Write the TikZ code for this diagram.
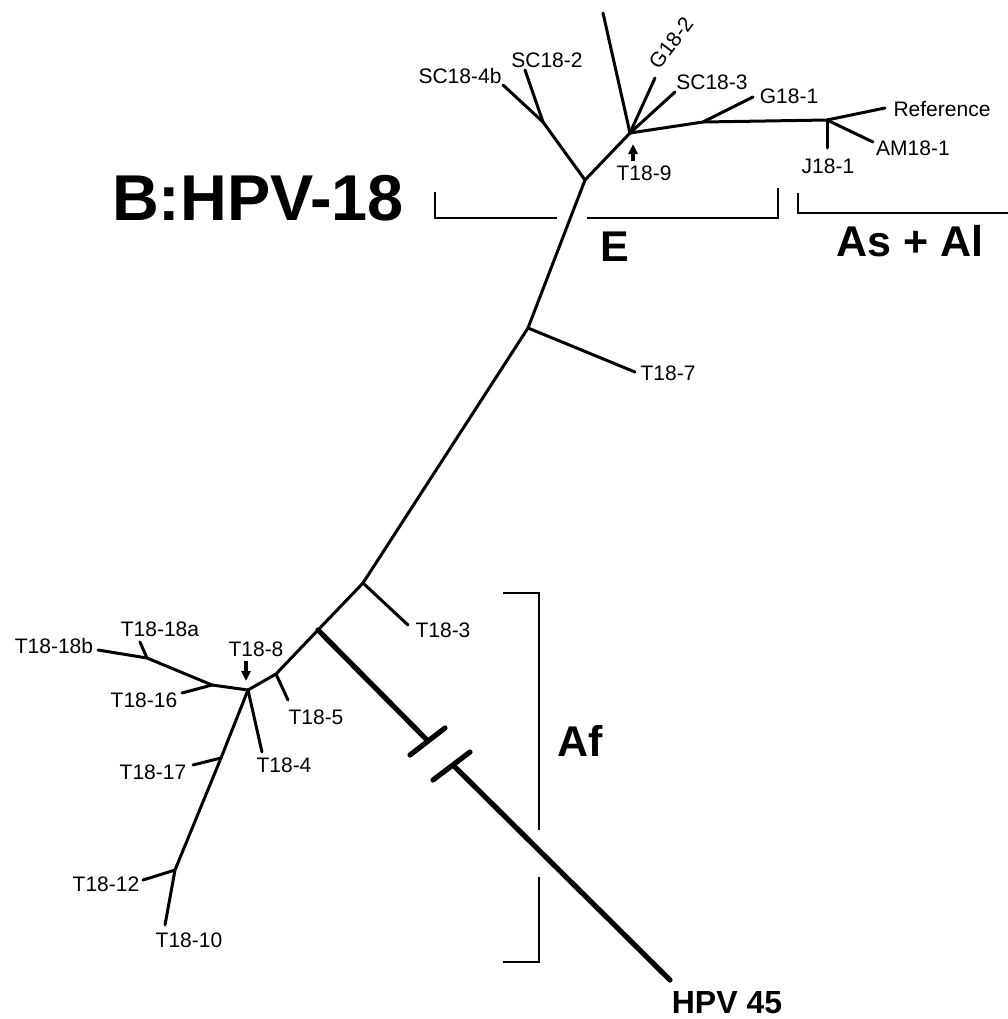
\documentclass[tikz,border=0pt]{standalone}
\usepackage{fontspec}
\setmainfont{Liberation Sans}
\usetikzlibrary{arrows.meta}

\begin{document}
\begin{tikzpicture}[
    x=0.5pt, y=-0.5pt,
    line cap=round, line join=round,
    branch/.style={line width=1.5pt},
    outgroup/.style={line width=2.6pt},
    brkmark/.style={line width=2.6pt},
    bracket/.style={line width=1.2pt, line cap=butt, line join=miter},
    taxon/.style={font=\fontsize{10.5}{12}\selectfont, inner sep=0pt},
    clade/.style={font=\fontsize{21.5}{24}\selectfont\bfseries, inner sep=0pt},
    pointer/.style={-{Triangle[length=5pt,width=4.5pt]}, line width=1.8pt, line cap=butt},
  ]
  \useasboundingbox (0,0) rectangle (1008,1019);

  % --- inner nodes ---
  \coordinate (top)  at (585,180);
  \coordinate (n7)   at (528,328);
  \coordinate (n3)   at (363,583);
  \coordinate (nout) at (318,630);
  \coordinate (n5)   at (276,674);
  \coordinate (n8)   at (248,690);
  \coordinate (n16)  at (212,685);
  \coordinate (n18)  at (147,658);
  \coordinate (n17)  at (221,758);
  \coordinate (n12)  at (175,870);
  \coordinate (nsc)  at (543,122);
  \coordinate (n9)   at (630,133);
  \coordinate (ng1)  at (703,122);
  \coordinate (nref) at (827,120);

  % --- leaf tips ---
  \coordinate (l7)   at (635,372);
  \coordinate (l3)   at (408,625);
  \coordinate (l5)   at (288,700);
  \coordinate (l16)  at (182,693);
  \coordinate (l18a) at (140,642);
  \coordinate (l18b) at (98,650);
  \coordinate (l4)   at (262,752);
  \coordinate (l17)  at (193,765);
  \coordinate (l12)  at (143,880);
  \coordinate (l10)  at (165,925);
  \coordinate (l4b)  at (503,85);
  \coordinate (lsc2) at (525,70);
  \coordinate (lup)  at (603,13);
  \coordinate (lg2)  at (655,78);
  \coordinate (lsc3) at (675,92);
  \coordinate (lg1)  at (753,97);
  \coordinate (lref) at (885,108);
  \coordinate (lam)  at (873,142);
  \coordinate (lj)   at (827,148);

  % --- HPV 45 with break ---
  \coordinate (cut1)  at (427,740);
  \coordinate (cut1a) at (410,755);
  \coordinate (cut1b) at (445,728);
  \coordinate (cut2)  at (455,767);
  \coordinate (cut2a) at (433,780);
  \coordinate (cut2b) at (470,752);
  \coordinate (l45)   at (670,980);

  % tree
  \draw[branch] (top) -- (n7) -- (n3) -- (nout) -- (n5) -- (n8);
  \draw[branch] (n7) -- (l7);
  \draw[branch] (n3) -- (l3);
  \draw[branch] (n5) -- (l5);
  \draw[branch] (n8) -- (n16) -- (n18) -- (l18b);
  \draw[branch] (n16) -- (l16);
  \draw[branch] (n18) -- (l18a);
  \draw[branch] (n8) -- (l4);
  \draw[branch] (n8) -- (n17) -- (n12) -- (l10);
  \draw[branch] (n17) -- (l17);
  \draw[branch] (n12) -- (l12);
  \draw[branch] (top) -- (nsc) -- (l4b);
  \draw[branch] (nsc) -- (lsc2);
  \draw[branch] (top) -- (n9) -- (lup);
  \draw[branch] (n9) -- (lg2);
  \draw[branch] (n9) -- (lsc3);
  \draw[branch] (n9) -- (ng1) -- (nref) -- (lref);
  \draw[branch] (ng1) -- (lg1);
  \draw[branch] (nref) -- (lam);
  \draw[branch] (nref) -- (lj);
  \draw[outgroup] (nout) -- (cut1);
  \draw[outgroup] (cut2) -- (l45);
  \draw[brkmark] (cut1a) -- (cut1b);
  \draw[brkmark] (cut2a) -- (cut2b);

  % taxa
  \node[taxon] (t7)   at (668,373) {T18-7};
  \node[taxon] (t3)   at (443,630) {T18-3};
  \node[taxon] (t5)   at (316,717) {T18-5};
  \node[taxon] (t4)   at (284,765) {T18-4};
  \node[taxon] (t8)   at (256,649) {T18-8};
  \node[taxon] (t16)  at (144,700) {T18-16};
  \node[taxon] (t18a) at (160,629) {T18-18a};
  \node[taxon] (t18b) at (54,646)  {T18-18b};
  \node[taxon] (t17)  at (153,772) {T18-17};
  \node[taxon] (t12)  at (106,884) {T18-12};
  \node[taxon] (t10)  at (189,940) {T18-10};
  \node[taxon] (t9)   at (644,173) {T18-9};
  \node[taxon] (sc4b) at (460,76)  {SC18-4b};
  \node[taxon] (sc2)  at (547,60)  {SC18-2};
  \node[taxon, rotate=53] (g2) at (671,43) {G18-2};
  \node[taxon] (sc3)  at (712,82)  {SC18-3};
  \node[taxon] (g1)   at (789,96)  {G18-1};
  \node[taxon] (ref)  at (942,109) {Reference};
  \node[taxon] (am1)  at (913,148) {AM18-1};
  \node[taxon] (j1)   at (828,166) {J18-1};

  % pointers
  \coordinate (p9a) at (633,161);
  \coordinate (p9b) at (633,144);
  \coordinate (p8a) at (246,661);
  \coordinate (p8b) at (246,681);
  \draw[pointer] (p9a) -- (p9b);
  \draw[pointer] (p8a) -- (p8b);

  % brackets
  \coordinate (e1) at (435,192);
  \coordinate (e2) at (435,218);
  \coordinate (e3) at (557,218);
  \coordinate (e4) at (587,218);
  \coordinate (e5) at (778,218);
  \coordinate (e6) at (778,188);
  \draw[bracket] (e1) -- (e2) -- (e3);
  \draw[bracket] (e4) -- (e5) -- (e6);
  \coordinate (as1) at (798,193);
  \coordinate (as2) at (798,213);
  \coordinate (as3) at (1008,213);
  \draw[bracket] (as1) -- (as2) -- (as3);
  \coordinate (af1) at (503,593);
  \coordinate (af2) at (539,593);
  \coordinate (af3) at (539,830);
  \coordinate (af4) at (539,877);
  \coordinate (af5) at (539,962);
  \coordinate (af6) at (503,962);
  \draw[bracket] (af1) -- (af2) -- (af3);
  \draw[bracket] (af4) -- (af5) -- (af6);

  % clade labels
  \node[clade, font=\fontsize{32.4}{36}\selectfont\bfseries] (title) at (258,198) {B:HPV-18};
  \node[clade] (cladeE)  at (615,247) {E};
  \node[clade] (cladeAs) at (910,241) {As + Al};
  \node[clade] (cladeAf) at (580,741) {Af};
  \node[clade, font=\fontsize{16}{18}\selectfont\bfseries] (hpv45) at (727,1003) {HPV 45};
\end{tikzpicture}
\end{document}
